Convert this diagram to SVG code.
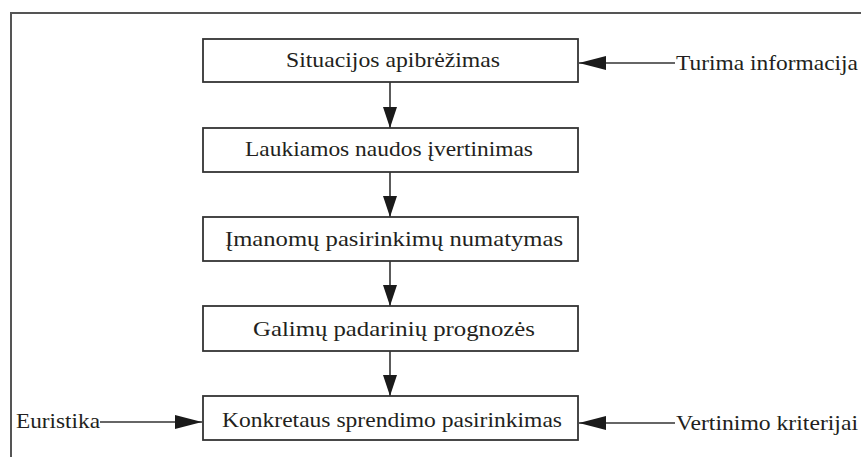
<svg xmlns="http://www.w3.org/2000/svg" width="861" height="457" viewBox="0 0 861 457">
<style>
.frame{fill:none;stroke:#555;stroke-width:2}
.box{fill:#fff;stroke:#333;stroke-width:1.8}
.t{font-family:'Liberation Serif','DejaVu Serif','Times New Roman',serif;font-size:21px;fill:#231f20}
.ln{stroke:#333;stroke-width:1.6;fill:none}
</style>
<defs>
<marker id="ah" markerUnits="userSpaceOnUse" markerWidth="28" markerHeight="16" refX="27" refY="8" orient="auto">
<path d="M0,1 L27,8 L0,15 Z" fill="#1a1a1a"/>
</marker>
<marker id="av" markerUnits="userSpaceOnUse" markerWidth="22" markerHeight="16" refX="21" refY="8" orient="auto">
<path d="M0,1 L21,8 L0,15 Z" fill="#1a1a1a"/>
</marker>
</defs>
<path class="frame" d="M11,457 L11,13 L861,13"/>
<g id="connectors">
<line class="ln" x1="390" y1="82" x2="390" y2="128" marker-end="url(#av)"/>
<line class="ln" x1="390" y1="172" x2="390" y2="217" marker-end="url(#av)"/>
<line class="ln" x1="390" y1="261" x2="390" y2="306" marker-end="url(#av)"/>
<line class="ln" x1="390" y1="351" x2="390" y2="396" marker-end="url(#av)"/>
<line class="ln" x1="675" y1="63" x2="579" y2="63" marker-end="url(#ah)"/>
<line class="ln" x1="675" y1="423" x2="579" y2="423" marker-end="url(#ah)"/>
<line class="ln" x1="100" y1="422" x2="202" y2="422" marker-end="url(#ah)"/>
</g>
<g id="n1"><rect class="box" x="203" y="39" width="375" height="43"/><text class="t" x="286" y="67" textLength="214" lengthAdjust="spacingAndGlyphs">Situacijos apibrėžimas</text></g>
<g id="n2"><rect class="box" x="203" y="128" width="375" height="44"/><text class="t" x="245" y="156" textLength="288" lengthAdjust="spacingAndGlyphs">Laukiamos naudos įvertinimas</text></g>
<g id="n3"><rect class="box" x="203" y="217" width="375" height="44"/><text class="t" x="225" y="246" textLength="338" lengthAdjust="spacingAndGlyphs">Įmanomų pasirinkimų numatymas</text></g>
<g id="n4"><rect class="box" x="203" y="306" width="375" height="45"/><text class="t" x="253" y="336" textLength="282" lengthAdjust="spacingAndGlyphs">Galimų padarinių prognozės</text></g>
<g id="n5"><rect class="box" x="203" y="396" width="375" height="44"/><text class="t" x="222" y="427" textLength="340" lengthAdjust="spacingAndGlyphs">Konkretaus sprendimo pasirinkimas</text></g>
<g id="in1"><text class="t" x="676" y="70" textLength="182" lengthAdjust="spacingAndGlyphs">Turima informacija</text></g>
<g id="in2"><text class="t" x="676" y="430" textLength="182" lengthAdjust="spacingAndGlyphs">Vertinimo kriterijai</text></g>
<g id="in3"><text class="t" x="16" y="428" textLength="84" lengthAdjust="spacingAndGlyphs">Euristika</text></g>
</svg>
